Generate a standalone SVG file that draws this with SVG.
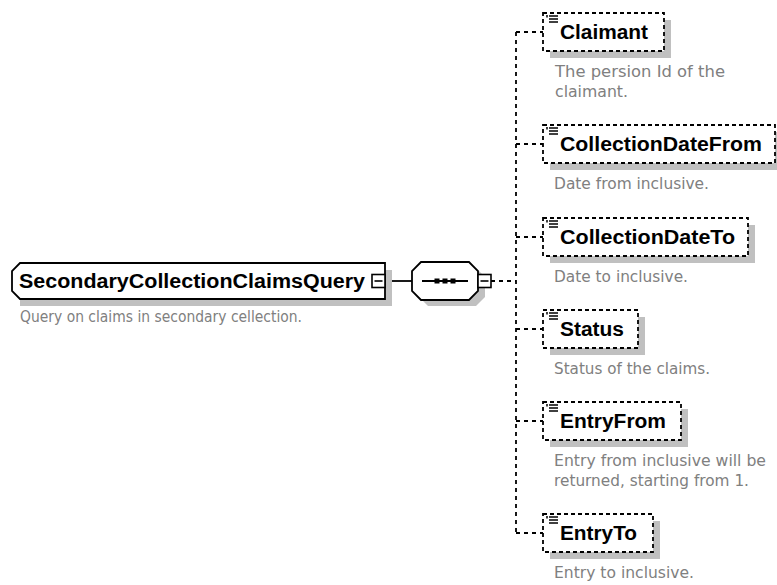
<svg xmlns="http://www.w3.org/2000/svg" width="777" height="585" viewBox="0 0 777 585">
  <style>
    .name { font-family: "Liberation Sans", Arial, sans-serif; font-weight: bold; font-size: 20px; fill: #000; }
    .doc { font-family: "DejaVu Sans", Verdana, sans-serif; font-size: 15px; fill: #808080; }
    .shadow { fill: #c0c0c0; stroke: none; }
    .solid { fill: #fff; stroke: #000; stroke-width: 1.8; }
    .opt { fill: #fff; stroke: #000; stroke-width: 1.8; stroke-dasharray: 4 3; }
    .link { fill: none; stroke: #000; stroke-width: 1.8; }
    .dlink { fill: none; stroke: #000; stroke-width: 1.8; stroke-dasharray: 4 4; }
    .btn { fill: #fff; stroke: #000; stroke-width: 1.6; }
    .ico { stroke: #000; stroke-width: 1.5; }
  </style>
  <defs>
    <!-- collapse button: square with a minus sign -->
    <g id="minus">
      <rect class="btn" x="0" y="0" width="13" height="13"/>
      <line x1="2.5" y1="6.5" x2="10.5" y2="6.5" stroke="#000" stroke-width="1.6"/>
    </g>
    <!-- simple-content element icon -->
    <g id="elemIcon">
      <line class="ico" x1="2" y1="0" x2="11" y2="0"/>
      <line class="ico" x1="2" y1="3" x2="11" y2="3"/>
      <line class="ico" x1="2" y1="6" x2="11" y2="6"/>
      <line class="ico" x1="0" y1="-1" x2="0" y2="1.5"/>
    </g>
  </defs>

  <rect width="777" height="585" fill="#fff"/>

  <!-- connectors -->
  <g id="connectors">
    <line class="link" x1="385" y1="281" x2="412" y2="281"/>
    <line class="dlink" x1="491" y1="281" x2="516" y2="281"/>
    <line class="dlink" x1="516" y1="32" x2="516" y2="533"/>
    <line class="dlink" x1="516" y1="32" x2="543" y2="32"/>
    <line class="dlink" x1="516" y1="144" x2="543" y2="144"/>
    <line class="dlink" x1="516" y1="237" x2="543" y2="237"/>
    <line class="dlink" x1="516" y1="329" x2="543" y2="329"/>
    <line class="dlink" x1="516" y1="421" x2="543" y2="421"/>
    <line class="dlink" x1="516" y1="533" x2="543" y2="533"/>
  </g>

  <!-- root element -->
  <g id="SecondaryCollectionClaimsQuery">
    <rect class="shadow" x="20" y="270" width="372" height="36"/>
    <path class="solid" d="M20,263 H385 V299 H20 L12,291 V271 Z"/>
    <text class="name" x="19" y="288" textLength="346" lengthAdjust="spacingAndGlyphs">SecondaryCollectionClaimsQuery</text>
    <use href="#minus" x="372" y="274.5"/>
    <text class="doc" x="20" y="322" textLength="282" lengthAdjust="spacingAndGlyphs">Query on claims in secondary cellection.</text>
  </g>

  <!-- sequence compositor -->
  <g id="sequence">
    <path class="shadow" d="M428,268 H476 L485,277 V297 L476,306 H428 L419,297 V277 Z"/>
    <path class="solid" d="M421,262 H469 L478,271 V291 L469,300 H421 L412,291 V271 Z"/>
    <line x1="422" y1="281" x2="468" y2="281" stroke="#000" stroke-width="1.8"/>
    <rect x="434.5" y="278.5" width="5" height="5" fill="#000"/>
    <rect x="442.5" y="278.5" width="5" height="5" fill="#000"/>
    <rect x="450.5" y="278.5" width="5" height="5" fill="#000"/>
    <use href="#minus" x="478" y="274.5"/>
  </g>

  <!-- child elements -->
  <g id="Claimant">
    <rect class="shadow" x="550" y="20" width="121" height="38"/>
    <rect class="opt" x="543" y="13" width="121" height="38"/>
    <use href="#elemIcon" x="547" y="16"/>
    <text class="name" x="560" y="39" textLength="88" lengthAdjust="spacingAndGlyphs">Claimant</text>
    <text class="doc" x="555" y="77" textLength="170" lengthAdjust="spacingAndGlyphs">The persion Id of the</text>
    <text class="doc" x="555" y="97" textLength="73" lengthAdjust="spacingAndGlyphs">claimant.</text>
  </g>

  <g id="CollectionDateFrom">
    <rect class="shadow" x="550" y="132" width="233" height="38"/>
    <rect class="opt" x="543" y="125" width="232" height="38"/>
    <use href="#elemIcon" x="547" y="128"/>
    <text class="name" x="560" y="151" textLength="202" lengthAdjust="spacingAndGlyphs">CollectionDateFrom</text>
    <text class="doc" x="554" y="189" textLength="155" lengthAdjust="spacingAndGlyphs">Date from inclusive.</text>
  </g>

  <g id="CollectionDateTo">
    <rect class="shadow" x="550" y="225" width="205" height="38"/>
    <rect class="opt" x="543" y="218" width="205" height="38"/>
    <use href="#elemIcon" x="547" y="221"/>
    <text class="name" x="560" y="244" textLength="175" lengthAdjust="spacingAndGlyphs">CollectionDateTo</text>
    <text class="doc" x="554" y="282" textLength="134" lengthAdjust="spacingAndGlyphs">Date to inclusive.</text>
  </g>

  <g id="Status">
    <rect class="shadow" x="550" y="317" width="95" height="38"/>
    <rect class="opt" x="543" y="310" width="95" height="38"/>
    <use href="#elemIcon" x="547" y="313"/>
    <text class="name" x="560" y="336" textLength="64" lengthAdjust="spacingAndGlyphs">Status</text>
    <text class="doc" x="554" y="374" textLength="156" lengthAdjust="spacingAndGlyphs">Status of the claims.</text>
  </g>

  <g id="EntryFrom">
    <rect class="shadow" x="550" y="409" width="138" height="38"/>
    <rect class="opt" x="543" y="402" width="138" height="38"/>
    <use href="#elemIcon" x="547" y="405"/>
    <text class="name" x="560" y="428" textLength="106" lengthAdjust="spacingAndGlyphs">EntryFrom</text>
    <text class="doc" x="554" y="466" textLength="212" lengthAdjust="spacingAndGlyphs">Entry from inclusive will be</text>
    <text class="doc" x="554" y="486" textLength="195" lengthAdjust="spacingAndGlyphs">returned, starting from 1.</text>
  </g>

  <g id="EntryTo">
    <rect class="shadow" x="550" y="521" width="110" height="38"/>
    <rect class="opt" x="543" y="514" width="110" height="38"/>
    <use href="#elemIcon" x="547" y="517"/>
    <text class="name" x="560" y="540" textLength="77" lengthAdjust="spacingAndGlyphs">EntryTo</text>
    <text class="doc" x="554" y="578" textLength="140" lengthAdjust="spacingAndGlyphs">Entry to inclusive.</text>
  </g>
</svg>
